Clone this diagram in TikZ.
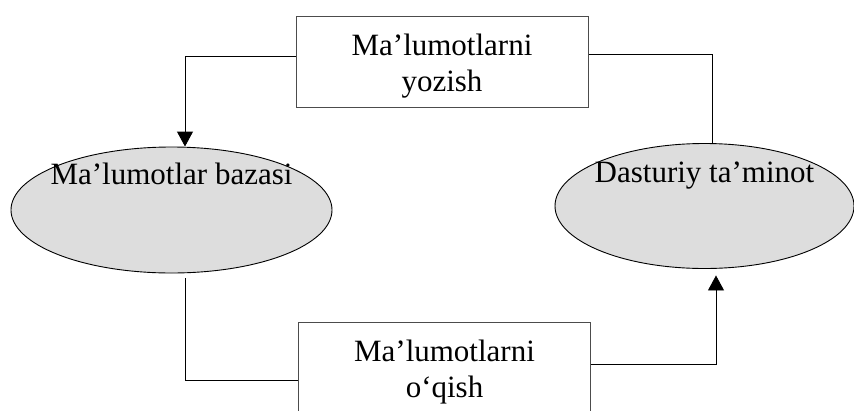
\documentclass[tikz,border=0pt]{standalone}
\usepackage{fontspec}
\setmainfont{Liberation Serif}
\usepackage{xcolor}
\usepackage{tikz}
\usetikzlibrary{positioning, calc, shapes.geometric, arrows.meta}
\definecolor{StoreGray}{HTML}{DDDDDD}

\begin{document}
\begin{tikzpicture}[x=1pt, y=-1pt,
					DataBox/.style={rectangle, draw=black!70, line width=1pt, minimum width=292pt, minimum height=91pt, inner sep=0pt, align=center, text height=66pt, text depth=7pt, font=\fontsize{31}{36}\selectfont},
					StoreNode/.style={ellipse, draw=black, fill=StoreGray, line width=0.9pt, minimum width=321pt, minimum height=126pt, inner sep=0pt},
					StoreText/.style={anchor=base, inner sep=0pt, font=\fontsize{31}{36}\selectfont},
					Flow/.style={draw=black, line width=0.9pt},
					FlowTip/.style={-{Triangle[width=16pt, length=15pt]}}]

				\useasboundingbox (0,0) rectangle (854,410);
				\clip (0,0) rectangle (854,410);

				\node[DataBox] (Yozish) at (442, 61.5) {Ma’lumotlarni\\yozish};
				\node[DataBox] (Oqish) at (444.5, 367.5) {Ma’lumotlarni\\o‘qish};
				\node[StoreNode] (Baza) at (171.5, 210) {};
				\node[StoreNode, minimum width=299pt, minimum height=125pt] (Dastur) at (704.5, 206) {};

				\node[StoreText] (BazaText) at ($(Baza.north) + (0, 38)$) {Ma’lumotlar bazasi};
				\node[StoreText] (DasturText) at ($(Dastur.north) + (0, 39)$) {Dasturiy ta’minot};

				\draw[Flow, FlowTip] ([yshift=5.5pt]Yozish.west) -| ($(Baza.north) + (13.5, 0)$);
				\draw[Flow] ([yshift=7.5pt]Yozish.east) -| ($(Dastur.north) + (8, 0)$);
				\draw[Flow] ($(Baza.south) + (13.5, 5)$) |- ([yshift=-12.5pt]Oqish.west);
				\draw[Flow, FlowTip] ([yshift=3.5pt]Oqish.east) -| ($(Dastur.south) + (11.5, 6.5)$);
			\end{tikzpicture}
\end{document}
